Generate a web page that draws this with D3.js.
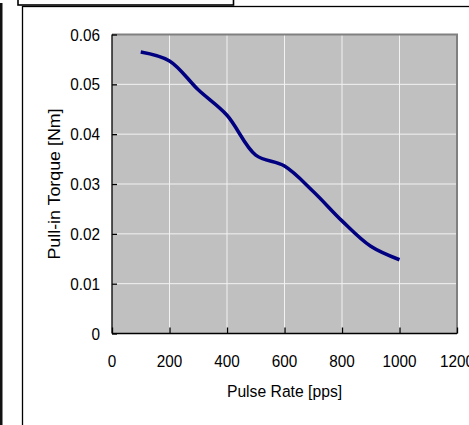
<!DOCTYPE html>
<html>
<head>
<meta charset="utf-8">
<script src="https://cdn.jsdelivr.net/npm/d3@7"></script>
<style>
  html, body { margin: 0; padding: 0; background: #fff; overflow: hidden; }
  text { font-family: "Liberation Sans", Arial, sans-serif; fill: #000; }
</style>
</head>
<body>
<svg id="chart" width="469" height="425"></svg>
<script>
// ---- data ----
const pulseRate = [100, 200, 300, 400, 500, 600, 700, 800, 900, 1000];
const pullInTorque = [0.0565, 0.0547, 0.0489, 0.0438, 0.0358, 0.0336, 0.0285, 0.0226, 0.0175, 0.0148];
const xTicks = [0, 200, 400, 600, 800, 1000, 1200];
const yTicks = [0, 0.01, 0.02, 0.03, 0.04, 0.05, 0.06];
const yTickLabels = ["0", "0.01", "0.02", "0.03", "0.04", "0.05", "0.06"];
const xTitle = "Pulse Rate [pps]";
const yTitle = "Pull-in Torque [Nm]";

(function () {
const svg = d3.select("#chart");

// outer decorations (page frame)
svg.append("rect").attr("x", 0).attr("y", 3).attr("width", 2.5).attr("height", 430).attr("fill", "#111");
svg.append("rect").attr("x", 22.5).attr("y", 6.5).attr("width", 470).attr("height", 430)
  .attr("fill", "#fff").attr("stroke", "#000").attr("stroke-width", 1.3);
svg.append("rect").attr("x", 18).attr("y", -10).attr("width", 215.5).attr("height", 15)
  .attr("fill", "#fff").attr("stroke", "#000").attr("stroke-width", 1.6);

// plot area
const pL = 112, pR = 457, pT = 34.5, pB = 333.5;
const x = d3.scaleLinear().domain([0, 1200]).range([pL, pR]);
const y = d3.scaleLinear().domain([0, 0.06]).range([pB, pT]);

svg.append("rect").attr("x", pL).attr("y", pT).attr("width", pR - pL).attr("height", pB - pT)
  .attr("fill", "#c0c0c0");

// gridlines
svg.append("g").selectAll("line").data(yTicks.slice(1, -1)).join("line")
  .attr("x1", pL).attr("x2", pR).attr("y1", d => y(d)).attr("y2", d => y(d))
  .attr("stroke", "#f2f2f2").attr("stroke-width", 1);
svg.append("g").selectAll("line").data(xTicks.slice(1, -1)).join("line")
  .attr("y1", pT).attr("y2", pB).attr("x1", d => x(d)).attr("x2", d => x(d))
  .attr("stroke", "#f2f2f2").attr("stroke-width", 1);

// top and right borders
svg.append("path").attr("d", `M${pL},${pT} H${pR} V${pB}`)
  .attr("fill", "none").attr("stroke", "#808080").attr("stroke-width", 2);

// axes via d3
const yAxis = d3.axisRight(y).tickValues(yTicks).tickSize(5).tickFormat("");
const gy = svg.append("g").attr("transform", `translate(${pL},0)`).call(yAxis);
gy.select(".domain").attr("d", `M0,${pT}V${pB}`).attr("stroke", "#000").attr("stroke-width", 1.3);
gy.selectAll(".tick line").attr("stroke", "#000").attr("stroke-width", 1.3);

const xAxis = d3.axisTop(x).tickValues(xTicks).tickSize(6).tickFormat("");
const gx = svg.append("g").attr("transform", `translate(0,${pB})`).call(xAxis);
gx.select(".domain").attr("d", `M${pL},0H${pR}`).attr("stroke", "#000").attr("stroke-width", 1.3);
gx.selectAll(".tick line").attr("stroke", "#000").attr("stroke-width", 1.3);

// tick labels
const sY = 1.1;
svg.append("g").selectAll("text").data(yTicks).join("text")
  .attr("transform", d => `translate(100,${y(d) + 6}) scale(1,${sY})`)
  .attr("text-anchor", "end").attr("font-size", 15.3)
  .text((d, i) => yTickLabels[i]);
svg.append("g").selectAll("text").data(xTicks).join("text")
  .attr("transform", d => `translate(${x(d)},367) scale(1,${sY})`)
  .attr("text-anchor", "middle").attr("font-size", 15.3)
  .text(d => d);

// titles
svg.append("text")
  .attr("transform", `translate(${(pL + pR) / 2},396.5) scale(1,${sY})`)
  .attr("text-anchor", "middle").attr("font-size", 15.7).text(xTitle);
svg.append("text")
  .attr("transform", `translate(59.5,${(pT + pB) / 2}) rotate(-90) scale(1.12,1)`)
  .attr("text-anchor", "middle").attr("font-size", 15.9).text(yTitle);

// data line
const pts = pulseRate.map((d, i) => [d, pullInTorque[i]]);
const line = d3.line().x(d => x(d[0])).y(d => y(d[1])).curve(d3.curveCatmullRom.alpha(0.5));
svg.append("path").datum(pts).attr("d", line)
  .attr("fill", "none").attr("stroke", "#000080").attr("stroke-width", 3.5)
  .attr("stroke-linejoin", "round");
})();
</script>
</body>
</html>
